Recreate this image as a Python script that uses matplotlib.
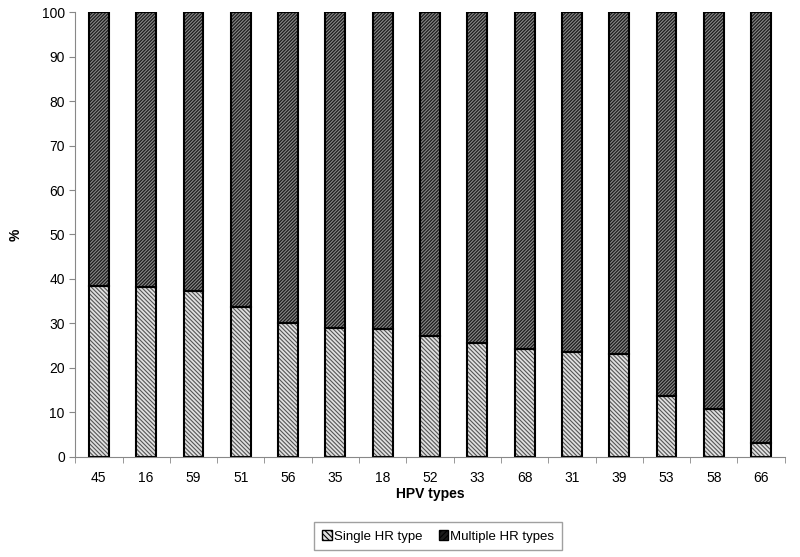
import numpy as np
import matplotlib
matplotlib.use("Agg")
import matplotlib.pyplot as plt
from matplotlib.patches import Patch

plt.rcParams['font.family'] = ['Liberation Sans', 'DejaVu Sans']
plt.rcParams['hatch.linewidth'] = 0.8

hpv_types = ["45", "16", "59", "51", "56", "35", "18", "52", "33", "68", "31", "39", "53", "58", "66"]
single_hr = [38.5, 38.3, 37.4, 33.8, 30.2, 28.9, 28.7, 27.1, 25.6, 24.3, 23.5, 23.1, 13.6, 10.8, 3.2]
multiple_hr = [100 - v for v in single_hr]

fig = plt.figure(figsize=(8, 5.57), dpi=100)
ax = fig.add_axes([0.094, 0.18, 0.887, 0.798])

x = np.arange(len(hpv_types))
w = 0.42

# hatched fills (edgecolor sets hatch colour), then black outlines
ax.bar(x, single_hr, w, color="#e0e0e0", edgecolor="#555555", hatch="\\" * 8, linewidth=0)
ax.bar(x, multiple_hr, w, bottom=single_hr, color="#1c1c1c", edgecolor="#8a8a8a", hatch="/" * 10, linewidth=0)
ax.bar(x, single_hr, w, fill=False, edgecolor="black", linewidth=1.5)
ax.bar(x, multiple_hr, w, bottom=single_hr, fill=False, edgecolor="black", linewidth=1.5)

ax.set_xlim(-0.5, len(hpv_types) - 0.5)
ax.set_ylim(0, 100)
ax.set_yticks(range(0, 101, 10))
ax.set_xticks(x)
ax.set_xticklabels(hpv_types)
ax.set_xticks(np.arange(-0.5, len(hpv_types), 1), minor=True)
ax.tick_params(axis="x", which="major", length=0, pad=10, labelsize=10)
ax.tick_params(axis="x", which="minor", length=4, color="#888888", direction="out")
ax.tick_params(axis="y", length=4, color="#888888", labelsize=10)

for s in ["top", "right"]:
    ax.spines[s].set_visible(False)
for s in ["left", "bottom"]:
    ax.spines[s].set_color("#888888")

ax.set_xlabel("HPV types", fontweight="bold", fontsize=10, labelpad=2)
ax.set_ylabel("%", fontweight="bold", fontsize=10, labelpad=14)

handles = [
    Patch(facecolor="#e0e0e0", edgecolor="black", hatch="\\" * 6, label="Single HR type"),
    Patch(facecolor="#1c1c1c", edgecolor="black", hatch="/" * 6, label="Multiple HR types"),
]
leg = fig.legend(handles=handles, loc="center", bbox_to_anchor=(0.548, 0.037), ncol=2,
                 frameon=True, fancybox=False, fontsize=9.5, handlelength=0.7, handleheight=0.7,
                 handletextpad=0.2, columnspacing=1.2, borderpad=0.6)
leg.get_frame().set_edgecolor("#888888")
leg.get_frame().set_linewidth(1.0)

fig.savefig("out.png", dpi=100)
